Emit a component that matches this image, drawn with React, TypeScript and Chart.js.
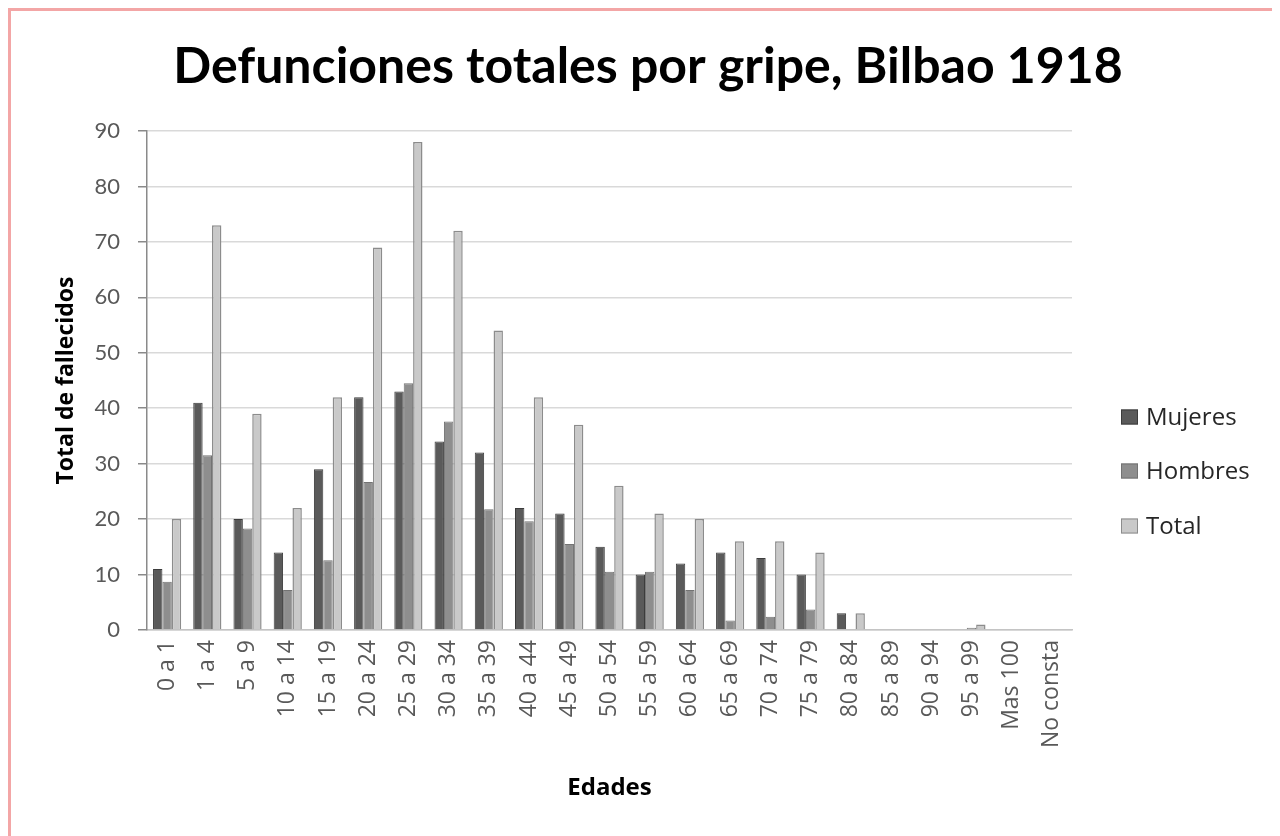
import React, { useEffect, useRef } from "react";
import { Chart, registerables } from "chart.js";

Chart.register(...registerables);

const chartTitle = "Defunciones totales por gripe, Bilbao 1918";
const xTitle = "Edades";
const yTitle = "Total de fallecidos";

const categories = [
  "0 a 1", "1 a 4", "5 a 9", "10 a 14", "15 a 19", "20 a 24", "25 a 29",
  "30 a 34", "35 a 39", "40 a 44", "45 a 49", "50 a 54", "55 a 59",
  "60 a 64", "65 a 69", "70 a 74", "75 a 79", "80 a 84", "85 a 89",
  "90 a 94", "95 a 99", "Mas 100", "No consta",
];

const mujeres = [11, 41, 20, 14, 29, 42, 43, 34, 32, 22, 21, 15, 10, 12, 14, 13, 10, 3, 0, 0, 0, 0, 0];
const hombres = [8.7, 31.5, 18.3, 7.2, 12.6, 26.7, 44.5, 37.6, 21.8, 19.6, 15.5, 10.5, 10.5, 7.2, 1.7, 2.4, 3.7, 0, 0, 0, 0.4, 0, 0];
const total = [20, 73, 39, 22, 42, 69, 88, 72, 54, 42, 37, 26, 21, 20, 16, 16, 14, 3, 0, 0, 1, 0, 0];

const seriesNames = ["Mujeres", "Hombres", "Total"];
const yMin = 0;
const yMax = 90;
const yStep = 10;

const TITLE_FONT = "Lato, 'Open Sans', sans-serif";
const TEXT_FONT = "'Open Sans', 'Noto Sans', sans-serif";
const TICK_FONT = "Lato, 'Open Sans', sans-serif";

const sideLegend = {
  id: "sideLegend",
  afterDraw(chart: any) {
    const ctx = chart.ctx as CanvasRenderingContext2D;
    const items = chart.data.datasets;
    const x0 = 1110;
    const yCenters = [406, 460, 515];
    ctx.save();
    ctx.font = `24px ${TEXT_FONT}`;
    ctx.textBaseline = "middle";
    ctx.textAlign = "left";
    items.forEach((ds: any, i: number) => {
      const yc = yCenters[i];
      ctx.fillStyle = ds.backgroundColor;
      ctx.fillRect(x0, yc - 7.5, 17, 15);
      ctx.strokeStyle = ds.borderColor;
      ctx.lineWidth = 1;
      ctx.strokeRect(x0 + 0.5, yc - 7, 16, 14);
      ctx.fillStyle = "#262626";
      ctx.fillText(ds.label, x0 + 25, yc + 1);
    });
    ctx.restore();
  },
};

export default function App() {
  const ref = useRef<HTMLCanvasElement>(null);

  useEffect(() => {
    if (!ref.current) return;
    const chart = new Chart(ref.current, {
      type: "bar",
      data: {
        labels: categories,
        datasets: [
          {
            label: seriesNames[0],
            data: mujeres,
            backgroundColor: "#5a5a5a",
            borderColor: "#3c3c3c",
            borderWidth: 1,
          },
          {
            label: seriesNames[1],
            data: hombres,
            backgroundColor: "#8e8e8e",
            borderColor: "#737373",
            borderWidth: 1,
          },
          {
            label: seriesNames[2],
            data: total,
            backgroundColor: "#c9c9c9",
            borderColor: "#8c8c8c",
            borderWidth: 1.5,
          },
        ],
      },
      options: {
        animation: false,
        responsive: false,
        maintainAspectRatio: false,
        layout: { padding: { left: 13, right: 0, top: 0, bottom: 0 } },
        datasets: {
          bar: { categoryPercentage: 0.7, barPercentage: 1 },
        },
        plugins: {
          legend: { display: false },
          tooltip: { enabled: false },
          title: {
            display: true,
            text: chartTitle,
            color: "#000",
            font: { family: TITLE_FONT, size: 50, weight: "bold", lineHeight: 1.2 },
            padding: { top: 26, bottom: 34 },
          },
        },
        scales: {
          x: {
            grid: { display: false, drawTicks: false },
            border: { display: true, color: "#c4c4c4", width: 1.5 },
            ticks: {
              autoSkip: false,
              minRotation: 90,
              maxRotation: 90,
              padding: 10,
              color: "#595959",
              font: { family: TEXT_FONT, size: 23 },
            },
            title: {
              display: true,
              text: xTitle,
              color: "#000",
              font: { family: TEXT_FONT, size: 24, weight: "bold", lineHeight: 1.2 },
              padding: { top: 0, bottom: 33 },
            },
            afterFit(scale: any) {
              scale.height = 206;
            },
          },
          y: {
            min: yMin,
            max: yMax,
            ticks: {
              stepSize: yStep,
              padding: 18,
              color: "#595959",
              font: { family: TICK_FONT, size: 22 },
            },
            grid: {
              color: "#d9d9d9",
              lineWidth: 1.5,
              drawTicks: true,
              tickLength: 9,
              tickColor: "#8a8a8a",
            },
            border: { display: true, color: "#8a8a8a", width: 1.5 },
            title: {
              display: true,
              text: yTitle,
              color: "#000",
              font: { family: TEXT_FONT, size: 23, weight: "bold", lineHeight: 1.2 },
              padding: { top: 29, bottom: 0 },
            },
            afterFit(scale: any) {
              scale.width = 123;
            },
          },
          legendSpace: {
            type: "linear",
            position: "right",
            display: true,
            grid: { display: false, drawTicks: false },
            border: { display: false },
            ticks: { display: false },
            afterFit(scale: any) {
              scale.width = 200;
            },
          },
        },
      },
      plugins: [sideLegend],
    });
    return () => chart.destroy();
  }, []);

  return (
    <div
      style={{
        borderTop: "3px solid #f3a6a6",
        borderLeft: "3px solid #f3a6a6",
        width: 1261,
        height: 825,
        background: "#fff",
      }}
    >
      <canvas ref={ref} width={1261} height={825} style={{ display: "block" }} />
    </div>
  );
}
